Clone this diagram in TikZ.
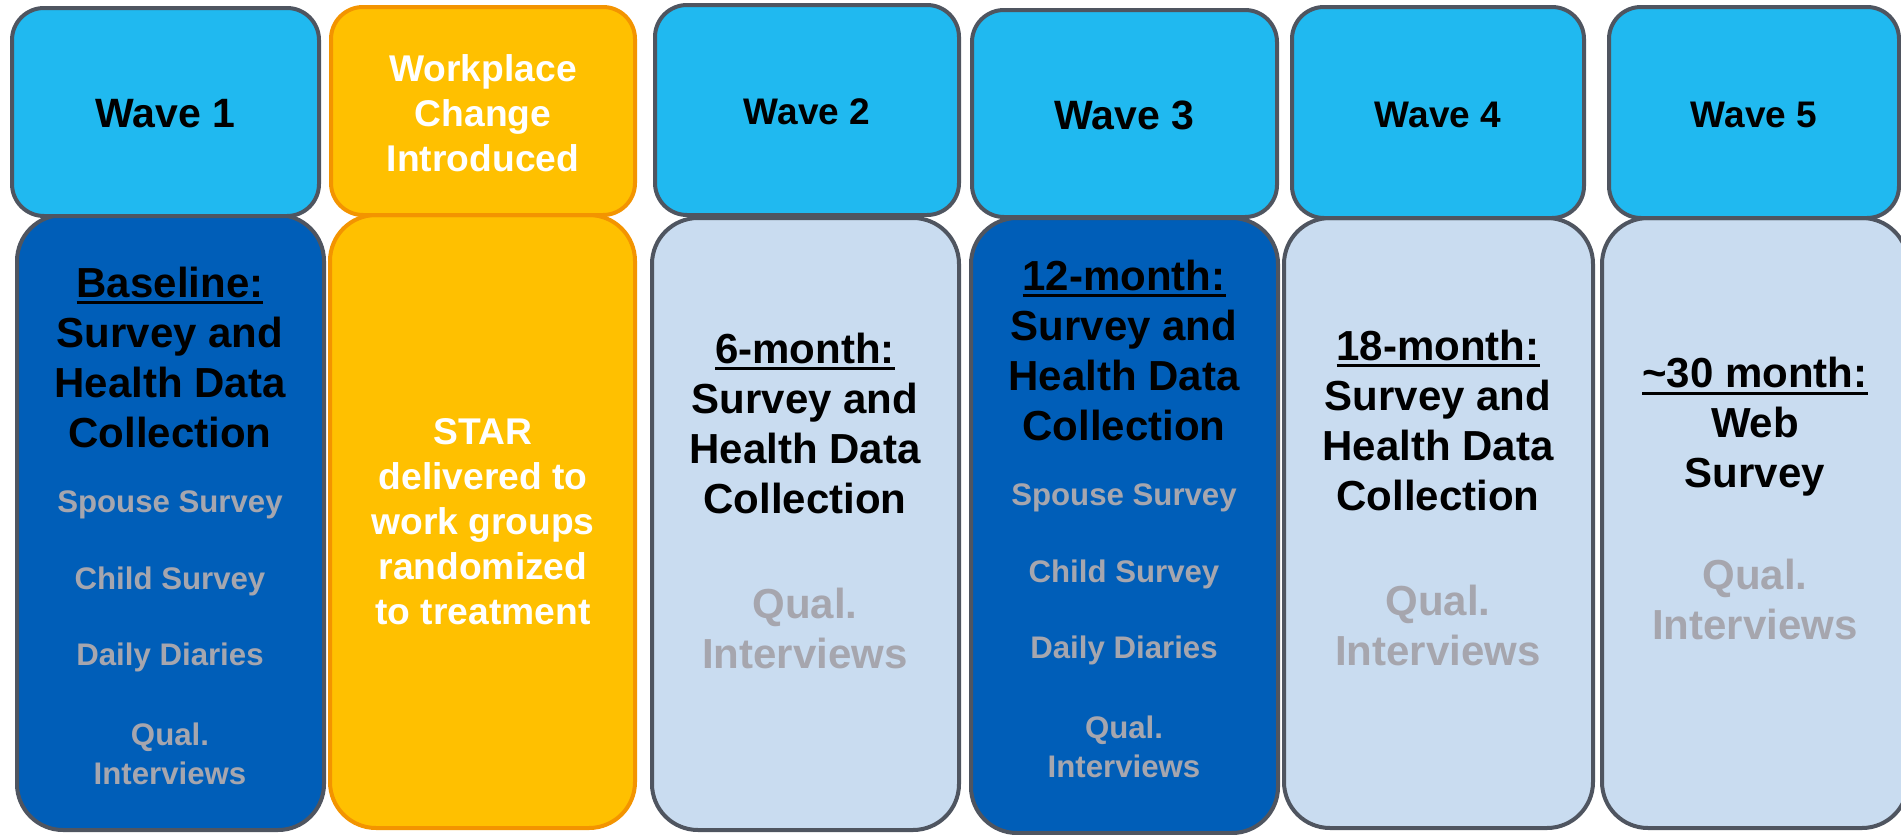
\documentclass[tikz,border=0pt]{standalone}
\usepackage{fontspec}
\setmainfont{Liberation Sans}
\usetikzlibrary{fit}
\definecolor{wavecyan}{HTML}{20B9F0}
\definecolor{deepblue}{HTML}{005EB8}
\definecolor{paleblue}{HTML}{C9DCF0}
\definecolor{gold}{HTML}{FFC000}
\definecolor{goldedge}{HTML}{F39400}
\definecolor{boxedge}{HTML}{4F5560}
\definecolor{qualgray}{HTML}{A6A6AE}
\newcommand{\underhead}[1]{\vtop{\hbox{#1}\kern1.6pt\hrule height 1.8pt}}
\tikzset{
  wavehead/.style={rectangle, rounded corners=16pt, draw=boxedge, line width=2pt, fill=wavecyan, inner sep=0pt},
  changehead/.style={wavehead, draw=goldedge, fill=gold},
  wavetext/.style={align=center, font=\bfseries\fontsize{18.5}{22}\selectfont},
  bigwave/.style={wavetext, font=\bfseries\fontsize{20.5}{24}\selectfont},
  changetext/.style={wavetext, text=white, font=\bfseries\fontsize{18.6}{22.5}\selectfont}
  }
\tikzstyle{darkcol}=[rectangle, rounded corners=23pt, draw=boxedge, line width=2pt, fill=deepblue, inner sep=0pt]
\tikzstyle{palecol}=[darkcol, fill=paleblue]
\tikzstyle{goldcol}=[darkcol, draw=goldedge, fill=gold]
\tikzstyle{heading}=[align=center, font=\bfseries\fontsize{21}{25}\selectfont]
\tikzstyle{extra}=[align=center, text=qualgray, font=\bfseries\fontsize{15.6}{19.5}\selectfont]
\tikzstyle{qual}=[align=center, text=qualgray, font=\bfseries\fontsize{21}{25}\selectfont]
\tikzstyle{treatment}=[align=center, text=white, font=\bfseries\fontsize{18.6}{22.5}\selectfont]

\begin{document}
\begin{tikzpicture}[x=0.5pt,y=-0.5pt]
       \useasboundingbox (0,0) rectangle (1901,835);
       \clip (0,0) rectangle (1901,835);
       \foreach \name/\kind/\xa/\ya/\xb/\yb in {base/darkcol/17/215/324/830, star/goldcol/330/215/635/828, six/palecol/652/218/959/830, twelve/darkcol/971/218/1278/833, eighteen/palecol/1284/218/1593/828, thirty/palecol/1602/218/1908/828} {
           \node[\kind, fit={(\xa,\ya) (\xb,\yb)}] (\name) {};
       }

       \foreach \name/\kind/\look/\xa/\ya/\xb/\yb/\txt in {wave1/wavehead/bigwave/12/8/319/216/Wave 1, change/changehead/changetext/331/7/635/215/Workplace\\Change\\Introduced, wave2/wavehead/wavetext/655/5/959/215/Wave 2, wave3/wavehead/bigwave/972/10/1277/217/Wave 3, wave4/wavehead/wavetext/1292/7/1584/218/Wave 4, wave5/wavehead/wavetext/1609/7/1899/218/Wave 5} {
           \node[\kind, fit={(\xa,\ya) (\xb,\yb)}] (\name) {};
           \node[\look] (\name-text) at ([yshift=-1pt]\name.center) {\txt};
       }

       \node[heading] (basehead) at (170,357) {\underhead{Baseline:}\\Survey and\\Health Data\\Collection};
       \node[treatment] (startext) at (483,522) {STAR\\delivered to\\work groups\\randomized\\to treatment};
       \node[heading] (sixhead) at (805,423) {\underhead{6-month:}\\Survey and\\Health Data\\Collection};
       \node[qual] (sixqual) at (805,628) {Qual.\\Interviews};
       \node[heading] (twelvehead) at (1124,350) {\underhead{12-month:}\\Survey and\\Health Data\\Collection};
       \node[heading] (eighteenhead) at (1438,420) {\underhead{18-month:}\\Survey and\\Health Data\\Collection};
       \node[qual] (eighteenqual) at (1438,625) {Qual.\\Interviews};
       \node[heading] (thirtyhead) at (1755,427) {\underhead{\textasciitilde30 month:}\\Web\\Survey};
       \node[qual] (thirtyqual) at (1755,599) {Qual.\\Interviews};

       \foreach \col/\cx/\lift in {base/170/0, twelve/1124/7} {
           \foreach \item/\dy/\txt in {spouse/505/Spouse Survey, child/581/Child Survey, diary/657/Daily Diaries, qual/754/Qual.\\Interviews}
               \node[extra] (\col-\item) at (\cx,\dy-\lift) {\txt};
       }
\end{tikzpicture}
\end{document}
